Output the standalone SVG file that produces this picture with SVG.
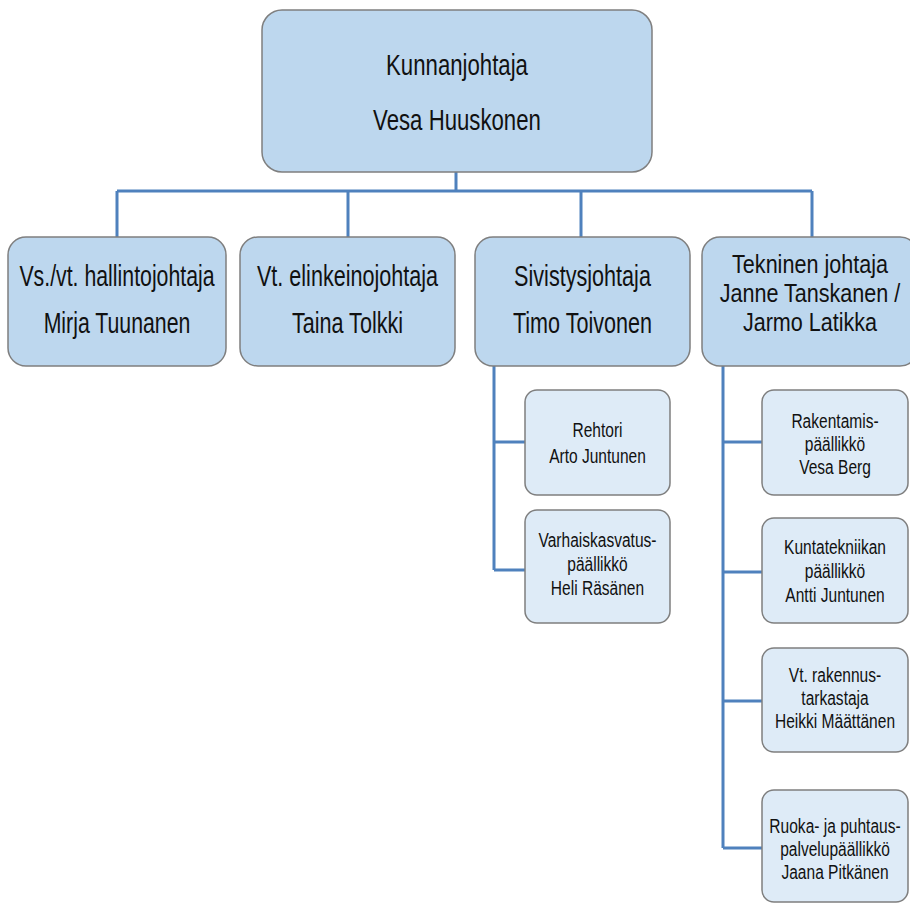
<svg xmlns="http://www.w3.org/2000/svg" width="910" height="903" viewBox="0 0 910 903">
<style>
.main{fill:#bdd7ee;stroke:#7f7f7f;stroke-width:1.5}
.sub{fill:#deebf7;stroke:#7f7f7f;stroke-width:1.5}
.conn{fill:none;stroke:#4f81bd;stroke-width:3}
text{font-family:"Liberation Sans",Arial,sans-serif;fill:#111111;text-anchor:middle}
.t1{font-size:30px}
.t1b{font-size:26px}
.t2{font-size:21px}
</style>
<rect width="910" height="903" fill="#ffffff"/>
<g id="connectors">
<path class="conn" d="M456 172V191M117 191H812M117 191V237M348 191V237M581 191V237M812 191V237"/>
<path class="conn" d="M494 366V570M494 442H525M494 570H525"/>
<path class="conn" d="M723 366V848M723 442H762M723 572H762M723 701H762M723 848H762"/>
</g>
<g id="kunnanjohtaja">
<rect class="main" x="262" y="10" width="390" height="162" rx="20"/>
<text class="t1" transform="translate(457 0) scale(0.74 1)" y="75">Kunnanjohtaja</text>
<text class="t1" transform="translate(457 0) scale(0.74 1)" y="130">Vesa Huuskonen</text>
</g>
<g id="hallintojohtaja">
<rect class="main" x="8" y="237" width="218" height="129" rx="18"/>
<text class="t1" transform="translate(117 0) scale(0.71 1)" y="286">Vs./vt. hallintojohtaja</text>
<text class="t1" transform="translate(117 0) scale(0.71 1)" y="333">Mirja Tuunanen</text>
</g>
<g id="elinkeinojohtaja">
<rect class="main" x="240" y="237" width="215" height="129" rx="18"/>
<text class="t1" transform="translate(347.5 0) scale(0.72 1)" y="286">Vt. elinkeinojohtaja</text>
<text class="t1" transform="translate(347.5 0) scale(0.72 1)" y="333">Taina Tolkki</text>
</g>
<g id="sivistysjohtaja">
<rect class="main" x="475" y="237" width="215" height="129" rx="18"/>
<text class="t1" transform="translate(582.5 0) scale(0.72 1)" y="286">Sivistysjohtaja</text>
<text class="t1" transform="translate(582.5 0) scale(0.72 1)" y="333">Timo Toivonen</text>
</g>
<g id="tekninen">
<rect class="main" x="702" y="237" width="216" height="129" rx="18"/>
<text class="t1b" transform="translate(810 0) scale(0.83 1)" y="273">Tekninen johtaja</text>
<text class="t1b" transform="translate(810 0) scale(0.83 1)" y="302">Janne Tanskanen /</text>
<text class="t1b" transform="translate(810 0) scale(0.83 1)" y="331">Jarmo Latikka</text>
</g>
<g id="rehtori">
<rect class="sub" x="525" y="390" width="145" height="105" rx="12"/>
<text class="t2" transform="translate(597.5 0) scale(0.74 1)" y="437">Rehtori</text>
<text class="t2" transform="translate(597.5 0) scale(0.74 1)" y="463">Arto Juntunen</text>
</g>
<g id="varhaiskasvatus">
<rect class="sub" x="525" y="510" width="145" height="113" rx="12"/>
<text class="t2" transform="translate(597.5 0) scale(0.74 1)" y="547">Varhaiskasvatus-</text>
<text class="t2" transform="translate(597.5 0) scale(0.74 1)" y="571">päällikkö</text>
<text class="t2" transform="translate(597.5 0) scale(0.74 1)" y="595">Heli Räsänen</text>
</g>
<g id="rakentamis">
<rect class="sub" x="762" y="390" width="146" height="105" rx="12"/>
<text class="t2" transform="translate(835 0) scale(0.74 1)" y="428">Rakentamis-</text>
<text class="t2" transform="translate(835 0) scale(0.74 1)" y="451">päällikkö</text>
<text class="t2" transform="translate(835 0) scale(0.74 1)" y="474">Vesa Berg</text>
</g>
<g id="kuntatekniikka">
<rect class="sub" x="762" y="518" width="146" height="105" rx="12"/>
<text class="t2" transform="translate(835 0) scale(0.74 1)" y="554">Kuntatekniikan</text>
<text class="t2" transform="translate(835 0) scale(0.74 1)" y="578">päällikkö</text>
<text class="t2" transform="translate(835 0) scale(0.74 1)" y="602">Antti Juntunen</text>
</g>
<g id="rakennustarkastaja">
<rect class="sub" x="762" y="648" width="146" height="104" rx="12"/>
<text class="t2" transform="translate(835 0) scale(0.74 1)" y="682">Vt. rakennus-</text>
<text class="t2" transform="translate(835 0) scale(0.74 1)" y="705">tarkastaja</text>
<text class="t2" transform="translate(835 0) scale(0.74 1)" y="728">Heikki Määttänen</text>
</g>
<g id="ruokapalvelu">
<rect class="sub" x="762" y="790" width="146" height="112" rx="12"/>
<text class="t2" transform="translate(835 0) scale(0.74 1)" y="833">Ruoka- ja puhtaus-</text>
<text class="t2" transform="translate(835 0) scale(0.74 1)" y="856">palvelupäällikkö</text>
<text class="t2" transform="translate(835 0) scale(0.74 1)" y="879">Jaana Pitkänen</text>
</g>
</svg>
